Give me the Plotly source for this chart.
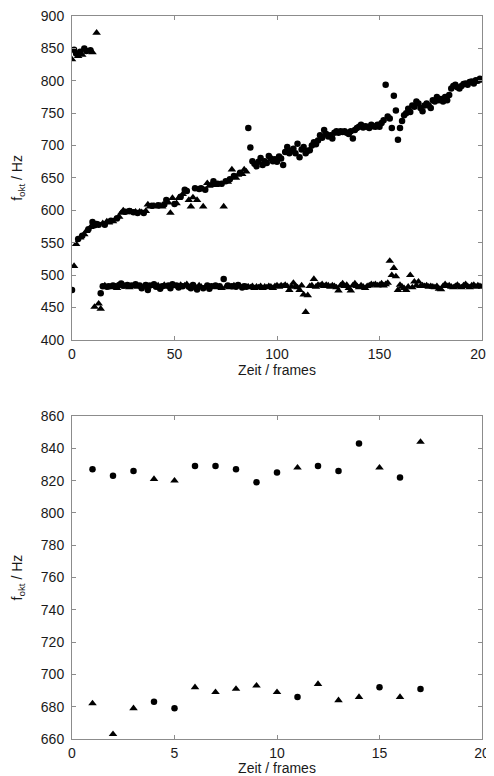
import plotly.graph_objects as go
from plotly.subplots import make_subplots

# ---------------- top panel data (frames 0..200) ----------------
frames_top = list(range(201))

upper_track_hz = [
    833, 848, 842, 838, 845, 840, 850, 846, 845, 847,
    844, 577, 874, 578, 472, 580, 578, 583, 581, 584,
    583, 586, 588, 590, 596, 600, 598, 597, 599, 598,
    597, 598, 596, 598, 597, 596, 599, 609, 606, 607,
    607, 606, 608, 607, 606, 609, 616, 612, 596, 619,
    610, 611, 619, 621, 625, 632, 630, 616, 606, 620,
    634, 616, 633, 634, 606, 632, 642, 638, 640, 645,
    639, 641, 640, 641, 606, 645, 644, 648, 663, 653,
    650, 655, 658, 656, 663, 660, 727, 697, 676, 672,
    668, 675, 681, 670, 676, 673, 684, 680, 676, 679,
    675, 683, 680, 670, 690, 698, 688, 692, 695, 688,
    703, 682, 694, 698, 688, 692, 693, 700, 705, 702,
    708, 716, 712, 724, 718, 714, 716, 711, 720, 722,
    720, 722, 721, 722, 720, 718, 722, 711, 724, 727,
    729, 732, 728, 730, 729, 727, 732, 730, 729, 732,
    729, 735, 739, 794, 745, 742, 727, 777, 754, 709,
    727, 738, 747, 750, 757, 752, 762, 760, 768, 765,
    758, 753, 762, 765, 762, 758, 770, 768, 775, 770,
    772, 768, 775, 770, 778, 788, 792, 794, 790, 788,
    792, 795, 796, 794, 798, 799, 796, 801, 800, 803,
    802,
]

lower_track_hz = [
    477, 514, 548, 556, 558, 561, 563, 568, 571, 574,
    582, 451, 579, 456, 448, 483, 484, 482, 483, 481,
    484, 483, 480, 485, 487, 484, 482, 485, 481, 484,
    483, 486, 482, 484, 480, 483, 485, 477, 484, 483,
    486, 482, 484, 479, 483, 485, 482, 484, 480, 486,
    483, 484, 481, 485, 483, 484, 486, 482, 480, 485,
    483, 478, 484, 482, 480, 481, 484, 479, 483, 482,
    484, 481, 483, 480, 494, 482, 484, 481, 483, 484,
    482, 485, 483, 481, 483, 482, 482, 481, 483, 480,
    482, 481, 483, 480, 482, 481, 483, 482, 480, 483,
    484, 482, 484, 483, 485, 483, 477, 482, 488, 483,
    481, 477, 484, 470, 443, 469, 483, 484, 494, 482,
    485, 484, 486, 483, 485, 484, 482, 484, 483, 481,
    476, 484, 487, 483, 485, 480, 476, 484, 487, 483,
    481, 484, 482, 480, 483, 484, 486, 485, 486, 484,
    485, 487, 484, 486, 488, 522, 500, 511, 498, 477,
    485, 482, 480, 477, 482, 500, 481, 490, 484, 490,
    483, 484, 483, 484, 482, 483, 482, 481, 483, 479,
    478, 483, 486, 483, 484, 482, 481, 483, 485, 482,
    481, 484, 486, 483, 481, 484, 485, 482, 484, 483,
    482,
]

# which track carries the circle estimate at each frame (U = upper, L = lower)
circle_track = (
    "LUULULUULU" "LULUULULLU" "LLULLLULUL" "ULULLULLLU" "LLULLUULLL"
    "ULLULUULLL" "ULUULULLLU" "LULULULULU" "LLULLL" + "U" * 115
)

# ---------------- bottom panel data (frames 1..17) ----------------
frames_bottom = list(range(1, 18))
bottom_circle_hz = [827, 823, 826, 683, 679, 829, 829, 827, 819, 825,
                    686, 829, 826, 843, 692, 822, 691]
bottom_triangle_hz = [682, 663, 679, 821, 820, 692, 689, 691, 693, 689,
                      828, 694, 684, 686, 828, 686, 844]

top_circle_hz = [u if c == "U" else l for u, l, c in zip(upper_track_hz, lower_track_hz, circle_track)]
top_triangle_hz = [l if c == "U" else u for u, l, c in zip(upper_track_hz, lower_track_hz, circle_track)]

fig = make_subplots(rows=2, cols=1)

mk_c = dict(symbol="circle", size=6.5, color="black", line=dict(width=0))
mk_t = dict(symbol="triangle-up", size=7.5, color="black", line=dict(width=0))

fig.add_trace(go.Scatter(x=frames_top, y=top_circle_hz, mode="markers", marker=mk_c), row=1, col=1)
fig.add_trace(go.Scatter(x=frames_top, y=top_triangle_hz, mode="markers", marker=mk_t), row=1, col=1)
fig.add_trace(go.Scatter(x=frames_bottom, y=bottom_circle_hz, mode="markers", marker=mk_c), row=2, col=1)
fig.add_trace(go.Scatter(x=frames_bottom, y=bottom_triangle_hz, mode="markers", marker=mk_t), row=2, col=1)

FONT = "Liberation Sans, Arial, sans-serif"
axis_common = dict(
    showline=True, linecolor="#8c8c8c", linewidth=1, mirror="allticks",
    ticks="inside", ticklen=4, tickcolor="#8c8c8c", tickwidth=1,
    showgrid=False, zeroline=False, automargin=False,
    ticklabeloverflow="allow",
    tickfont=dict(family=FONT, size=14, color="#1a1a1a"),
    title_font=dict(family=FONT, size=14, color="#1a1a1a"),
)

fig.update_xaxes(ticklabelstandoff=1, **axis_common)
fig.update_yaxes(ticklabelstandoff=4, **axis_common)

# page body has an 8px default margin, so the figure is sized to fit inside the window
fig.update_layout(
    xaxis=dict(range=[0, 200], dtick=50, domain=[0, 1],
               title=dict(text="Zeit / frames", standoff=3)),
    yaxis=dict(range=[400, 900], dtick=50, domain=[0.5519, 1.0],
               title=dict(text="f<sub>okt</sub> / Hz", standoff=14)),
    xaxis2=dict(range=[0, 20], dtick=5, domain=[0, 1],
                title=dict(text="Zeit / frames", standoff=3)),
    yaxis2=dict(range=[660, 860], dtick=20, domain=[0.0, 0.4467],
                title=dict(text="f<sub>okt</sub> / Hz", standoff=14)),
    width=486, height=768,
    margin=dict(l=64, r=12, t=8, b=37),
    paper_bgcolor="white", plot_bgcolor="white",
    showlegend=False,
)

fig.write_html("out.html")
